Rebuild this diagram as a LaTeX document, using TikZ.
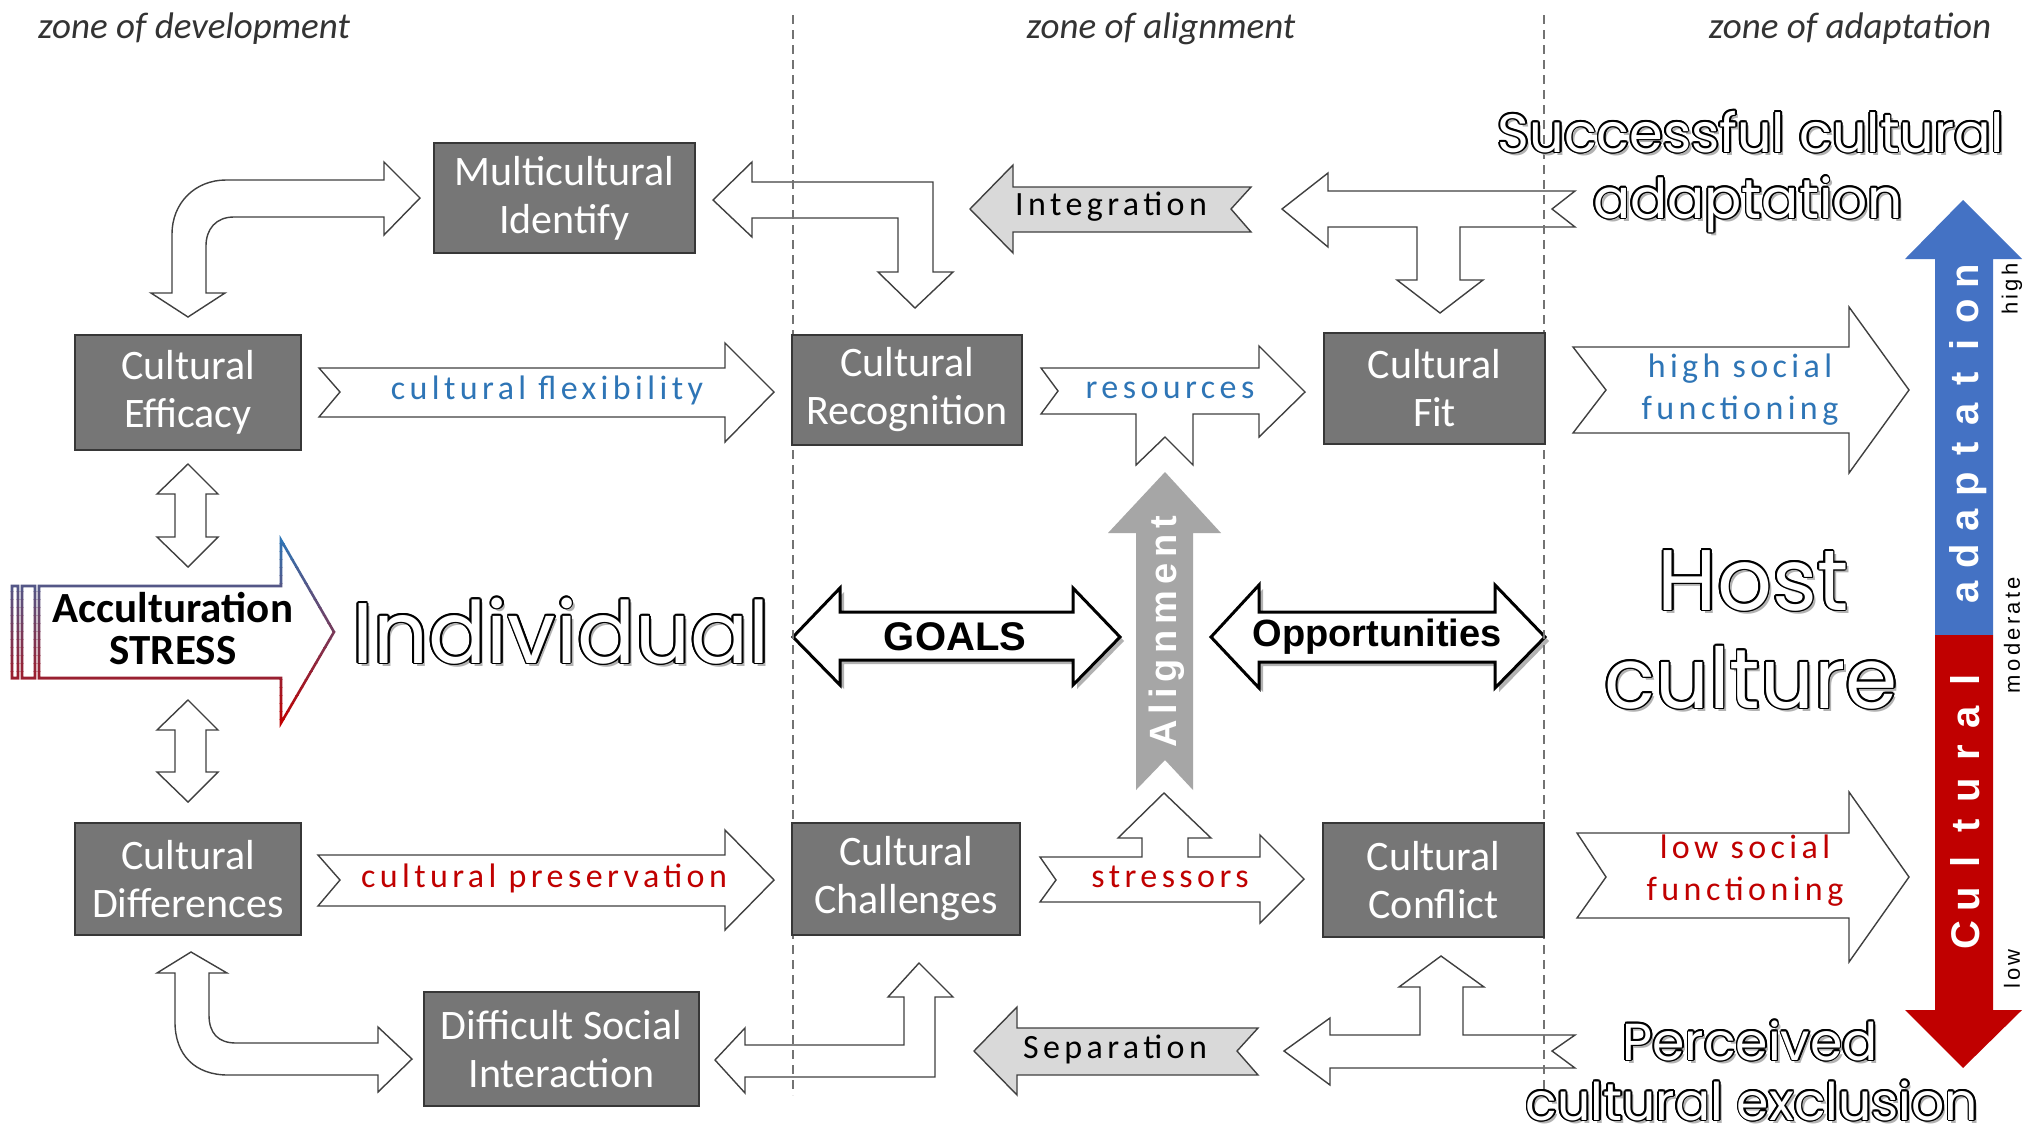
\documentclass[tikz,border=0pt]{standalone}
\usepackage{fontspec}
\setmainfont{Carlito}
\newfontfamily\boxfont{Carlito}
\newfontfamily\handfont{Carlito}[LetterSpace=13]
\newfontfamily\arialf{Liberation Sans}
\newfontfamily\spacedf{Liberation Sans}[LetterSpace=15]
\newfontfamily\roundf{Poppins}
\definecolor{boxfill}{RGB}{118,118,118}
\definecolor{boxline}{RGB}{55,55,55}
\definecolor{arrline}{RGB}{64,64,64}
\definecolor{hblue}{RGB}{46,117,182}
\definecolor{hred}{RGB}{192,0,0}
\definecolor{lgray}{RGB}{217,217,217}
\definecolor{mgray}{RGB}{166,166,166}
\definecolor{barblue}{RGB}{68,114,196}
\definecolor{barred}{RGB}{192,0,0}
\definecolor{sblue}{RGB}{46,117,182}
\definecolor{sred}{RGB}{192,0,0}
\newcommand\outl[1]{\rlap{\hspace*{3pt}\raisebox{-3pt}{\color{black!30}#1}}%
\foreach \ang in {0,30,...,330}{\pgfmathsetmacro\dx{1.8*cos(\ang)}\pgfmathsetmacro\dy{1.8*sin(\ang)}\rlap{\hspace*{\dx pt}\raisebox{\dy pt}{\color{black}#1}}}%
{\color{white}#1}}
\tikzset{
  boxst/.style={fill=boxfill, draw=boxline, line width=2pt, text=white, align=center, inner sep=0pt,
    font=\boxfont\fontsize{42}{48}\selectfont},
  blockarr/.style={fill=white, draw=arrline, line width=1.4pt, line join=miter},
  grayarr/.style={fill=lgray, draw=arrline, line width=1.4pt, line join=miter},
  boldarr/.style={fill=white, draw=black, line width=3pt, line join=miter},
  shadowarr/.style={fill=black!30, draw=none},
  hw/.style={inner sep=0pt, align=center, font=\handfont\fontsize{34}{42}\selectfont},
  zonetxt/.style={anchor=base, inner sep=0pt, text=black!80, font=\itshape\fontsize{37}{40}\selectfont},
  bigtxt/.style={anchor=base, inner sep=0pt},
  zoneline/.style={draw=black!55, line width=1.3pt, dash pattern=on 9pt off 6pt},
  barletter/.style={anchor=base, rotate=90, inner sep=0pt, text=white, font=\arialf\bfseries\fontsize{40}{40}\selectfont},
  barlabel/.style={rotate=90, inner sep=0pt, text=black, font=\spacedf\fontsize{22}{22}\selectfont}
}
\begin{document}
\begin{tikzpicture}[x=1pt,y=-1pt]
\fill[white] (0,0) rectangle (2032,1133);
\useasboundingbox (0,0) rectangle (2032,1133);

% zone labels
\node[zonetxt] (zdev) at (194,38) {zone of development};
\node[zonetxt] (zali) at (1161,38) {zone of alignment};
\node[zonetxt] (zada) at (1850,38) {zone of adaptation};

% ---- block arrows ----
% efficacy <-> multicultural (rounded elbow)
\draw[blockarr] (420,198) -- (384,162) -- (384,180) -- (226,180)
  .. controls (195,180) and (172,203) .. (172,234) -- (172,293) -- (151,293) -- (188,317)
  -- (225,293) -- (206,293) -- (206,246) .. controls (206,229) and (216,217) .. (234,217)
  -- (384,217) -- (384,235) -- cycle;
% multicultural <-> recognition (square elbow)
\draw[blockarr] (713,200) -- (752,162) -- (752,182) -- (933,182) -- (933,272) -- (953,272)
  -- (915,308) -- (878,272) -- (898,272) -- (898,218) -- (752,218) -- (752,237) -- cycle;
% Integration
\draw[grayarr] (970,209) -- (1013,165) -- (1013,187) -- (1251,187) -- (1231,209) -- (1251,232)
  -- (1013,232) -- (1013,253) -- cycle;
% T arrow top right
\draw[blockarr] (1282,209) -- (1328,173) -- (1328,191) -- (1575,191) -- (1552,209) -- (1575,227)
  -- (1460,227) -- (1460,280) -- (1483,280) -- (1440,313) -- (1397,280) -- (1417,280)
  -- (1417,227) -- (1328,227) -- (1328,247) -- cycle;
% cultural flexibility
\draw[blockarr] (319,368) -- (725,368) -- (725,343) -- (774,392) -- (725,442) -- (725,417)
  -- (319,417) -- (340,392) -- cycle;
% resources
\draw[blockarr] (1041,368) -- (1259,368) -- (1259,346) -- (1305,392) -- (1259,437) -- (1259,414)
  -- (1193,414) -- (1193,465) -- (1165,437) -- (1136,465) -- (1136,414) -- (1041,414)
  -- (1058,391) -- cycle;
% high social functioning
\draw[blockarr] (1573,347) -- (1849,347) -- (1849,307) -- (1909,390) -- (1849,473) -- (1849,433)
  -- (1573,433) -- (1606,390) -- cycle;
% vertical double arrows
\draw[blockarr] (188,464) -- (218,494) -- (206,494) -- (206,537) -- (218,537) -- (188,567)
  -- (157,537) -- (175,537) -- (175,494) -- (157,494) -- cycle;
\draw[blockarr] (188,700) -- (218,730) -- (206,730) -- (206,772) -- (218,772) -- (188,802)
  -- (157,772) -- (175,772) -- (175,730) -- (157,730) -- cycle;
% Acculturation stress (gradient outline)
\foreach \i in {0,...,23}{
  \pgfmathtruncatemacro\p{\i*100/23}
  \begin{scope}
    \clip (0,{535+\i*8}) rectangle (345,{543.5+\i*8});
    \draw[draw=sred!\p!sblue, line width=2.6pt, line join=miter]
      (39,586) -- (281,586) -- (281,540) -- (334,632) -- (281,723) -- (281,678) -- (39,678) -- cycle
      (12,586) rectangle (18,678) (22,586) rectangle (35,678);
  \end{scope}
}
% GOALS
\fill[shadowarr, shift={(4,4)}] (793,637) -- (840,588) -- (840,612) -- (1073,612) -- (1073,588)
  -- (1120,637) -- (1073,685) -- (1073,660) -- (840,660) -- (840,685) -- cycle;
\draw[boldarr] (793,637) -- (840,588) -- (840,612) -- (1073,612) -- (1073,588) -- (1120,637)
  -- (1073,685) -- (1073,660) -- (840,660) -- (840,685) -- cycle;
% Opportunities
\fill[shadowarr, shift={(4,4)}] (1211,637) -- (1259,585) -- (1259,612) -- (1495,612) -- (1495,585)
  -- (1545,637) -- (1495,688) -- (1495,662) -- (1259,662) -- (1259,688) -- cycle;
\draw[boldarr] (1211,637) -- (1259,585) -- (1259,612) -- (1495,612) -- (1495,585) -- (1545,637)
  -- (1495,688) -- (1495,662) -- (1259,662) -- (1259,688) -- cycle;
% Alignment
\fill[mgray] (1165,472) -- (1221,533) -- (1193,533) -- (1193,790) -- (1165,760) -- (1136,790)
  -- (1136,533) -- (1108,533) -- cycle;
% cultural preservation
\draw[blockarr] (318,855) -- (725,855) -- (725,830) -- (774,880) -- (725,930) -- (725,906)
  -- (318,906) -- (340,880) -- cycle;
% stressors
\draw[blockarr] (1040,857) -- (1142,857) -- (1142,838) -- (1118,838) -- (1164,793) -- (1211,838)
  -- (1188,838) -- (1188,857) -- (1260,857) -- (1260,835) -- (1304,879) -- (1260,923)
  -- (1260,902) -- (1040,902) -- (1056,880) -- cycle;
% low social functioning
\draw[blockarr] (1577,833) -- (1849,833) -- (1849,792) -- (1909,877) -- (1849,962) -- (1849,918)
  -- (1577,918) -- (1606,877) -- cycle;
% differences <-> difficult (rounded elbow)
\draw[blockarr] (191,952) -- (227,973) -- (209,973) -- (209,1015)
  .. controls (209,1033) and (218,1043) .. (236,1043) -- (378,1043) -- (378,1027) -- (412,1059)
  -- (378,1092) -- (378,1075) -- (228,1075) .. controls (195,1075) and (175,1055) .. (175,1022)
  -- (175,973) -- (157,973) -- cycle;
% difficult <-> challenges (square elbow)
\draw[blockarr] (715,1060) -- (745,1028) -- (745,1045) -- (904,1045) -- (904,997) -- (888,997)
  -- (919,963) -- (953,997) -- (935,997) -- (935,1077) -- (745,1077) -- (745,1093) -- cycle;
% Separation
\draw[grayarr] (974,1051) -- (1017,1007) -- (1017,1028) -- (1258,1028) -- (1237,1051) -- (1258,1075)
  -- (1017,1075) -- (1017,1095) -- cycle;
% T arrow bottom right
\draw[blockarr] (1284,1051) -- (1330,1018) -- (1330,1035) -- (1420,1035) -- (1420,987) -- (1399,987)
  -- (1441,956) -- (1484,987) -- (1463,987) -- (1463,1035) -- (1575,1035) -- (1552,1051)
  -- (1575,1068) -- (1330,1068) -- (1330,1085) -- cycle;
% right scale bar
\fill[barblue] (1963,200) -- (2022,259) -- (1993,259) -- (1993,635) -- (1935,635) -- (1935,259)
  -- (1905,259) -- cycle;
\fill[barred] (1935,635) -- (1993,635) -- (1993,1010) -- (2022,1010) -- (1963,1068) -- (1905,1010)
  -- (1935,1010) -- cycle;

% zone dividers
\coordinate (d1t) at (793,15); \coordinate (d1b) at (793,1095);
\coordinate (d2t) at (1544,15); \coordinate (d2b) at (1544,1090);
\draw[zoneline] (d1t) -- (d1b);
\draw[zoneline] (d2t) -- (d2b);

% ---- boxes ----
\node[boxst, minimum width=261, minimum height=110] (multi) at (564.5,198) {Multicultural\\Identify};
\node[boxst, minimum width=226, minimum height=115] (eff) at (188,392.5) {Cultural\\Efficacy};
\node[boxst, minimum width=230, minimum height=110] (recog) at (907,390) {Cultural\\Recognition};
\node[boxst, minimum width=221, minimum height=111] (fit) at (1434.5,388.5) {Cultural\\Fit};
\node[boxst, minimum width=226, minimum height=112] (diff) at (188,879) {Cultural\\Differences};
\node[boxst, minimum width=228, minimum height=112] (chall) at (906,879) {Cultural\\Challenges};
\node[boxst, minimum width=221, minimum height=114] (confl) at (1433.5,880) {Cultural\\Conflict};
\node[boxst, minimum width=275, minimum height=114] (dsi) at (561.5,1049) {Difficult Social\\Interaction};

% ---- arrow labels ----
\node[hw, text=hblue] (tflex) at (547,390) {cultural flexibility};
\node[hw, text=hblue] (tres) at (1170,390) {resources};
\node[hw, text=hblue] (thigh) at (1740,390) {high social\\functioning};
\node[hw, text=hred] (tpres) at (544,878) {cultural preservation};
\node[hw, text=hred] (tstrs) at (1170,877) {stressors};
\node[hw, text=hred] (tlow) at (1745,871) {low social\\functioning};
\node[hw, text=black] (tint) at (1111,207) {Integration};
\node[hw, text=black] (tsep) at (1115,1049) {Separation};
\node[inner sep=0pt, align=center, font=\bfseries\fontsize{43}{42}\selectfont] (tstress) at (173,629) {Acculturation\\STRESS};
\node[inner sep=0pt, font=\arialf\bfseries\fontsize{40}{40}\selectfont] (tgoals) at (955,637) {GOALS};
\node[inner sep=0pt, font=\arialf\bfseries\fontsize{38}{40}\selectfont] (topp) at (1377,637) {Opportunities};
\node[rotate=90, inner sep=0pt, text=white, font=\spacedf\bfseries\fontsize{38}{38}\selectfont] (talign) at (1167,632) {Alignment};

% ---- outlined headings ----
\node[bigtxt, font=\roundf\fontsize{86}{86}\selectfont] (tind) at (561,663) {\outl{Individual}};
\node[bigtxt, font=\roundf\fontsize{86}{86}\selectfont] (thost) at (1753,610) {\outl{Host}};
\node[bigtxt, font=\roundf\fontsize{84}{84}\selectfont] (tcult) at (1751,708) {\outl{culture}};
\node[bigtxt, font=\roundf\fontsize{54}{54}\selectfont] (tsucc) at (1751,152) {\outl{Successful cultural}};
\node[bigtxt, font=\roundf\fontsize{55}{55}\selectfont] (tadap) at (1748,218) {\outl{adaptation}};
\node[bigtxt, font=\roundf\fontsize{52}{52}\selectfont] (tperc) at (1750,1060) {\outl{Perceived}};
\node[bigtxt, font=\roundf\fontsize{52}{52}\selectfont] (texcl) at (1752,1120) {\outl{cultural exclusion}};

% ---- scale bar text ----
\foreach \l/\yy [count=\k] in {a/592,d/556,a/520,p/484,t/449,a/414,t/379,i/345,o/311,n/276}
  \node[barletter] (ad\k) at (1978,\yy) {\l};
\foreach \l/\yy [count=\k] in {C/935,u/899,l/862,t/826,u/790,r/753,a/717,l/680}
  \node[barletter] (cu\k) at (1979,\yy) {\l};
\node[barlabel] (lhigh) at (2012,289) {high};
\node[barlabel] (lmod) at (2012,635) {moderate};
\node[barlabel] (llow) at (2012,969) {low};
\end{tikzpicture}
\end{document}
